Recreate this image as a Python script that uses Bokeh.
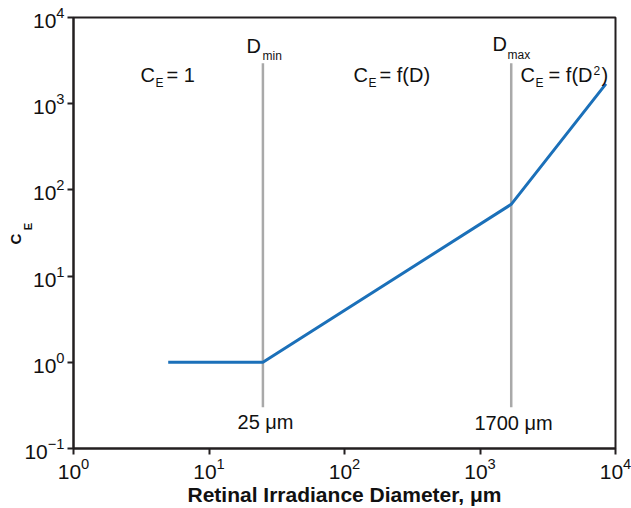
import math
from bokeh.plotting import figure
from bokeh.models import Label, FixedTicker, Title
from bokeh.embed import file_html
from bokeh.resources import INLINE

# ---- data ----
diameter_um = [5, 25, 1700, 8500]
c_e = [1, 1, 68, 1700]
d_min = 25
d_max = 1700
guide_bottom = 0.3
guide_top = 2950
x_ticks = [1, 10, 100, 1000, 10000]
y_ticks = [0.1, 1, 10, 100, 1000, 10000]

FONT = "Liberation Sans"
INK = "#231f20"
TXT = "#111111"
BLUE = "#1b70b9"
GREY = "#a9a9a9"

W, H = 631, 508
FL, FR, FT, FB = 73, 615, 17, 451

p = figure(width=W, height=H, x_axis_type="log", y_axis_type="log",
           x_range=(1, 1e4), y_range=(0.1, 1e4),
           output_backend="svg", toolbar_location=None,
           min_border_left=FL, min_border_right=W - FR,
           min_border_top=FT, min_border_bottom=H - FB)
p.grid.visible = False
p.outline_line_color = INK
p.outline_line_width = 2
p.background_fill_color = "white"
p.border_fill_color = "white"

for ax in (p.xaxis[0], p.yaxis[0]):
    ax.axis_line_color = INK
    ax.axis_line_width = 2
    ax.major_tick_line_color = INK
    ax.major_tick_line_width = 2
    ax.major_tick_out = 6
    ax.major_tick_in = 0
    ax.minor_tick_line_color = None
    ax.major_label_text_font = FONT
    ax.major_label_text_font_size = "21px"
    ax.major_label_text_color = TXT
p.xaxis.ticker = FixedTicker(ticks=x_ticks)
p.yaxis.ticker = FixedTicker(ticks=y_ticks)
p.xaxis.major_label_standoff = 3
p.yaxis.major_label_standoff = 3

p.xaxis.axis_label = "Retinal Irradiance Diameter, \u03bcm"
p.xaxis.axis_label_text_font = FONT
p.xaxis.axis_label_text_font_size = "21px"
p.xaxis.axis_label_text_font_style = "bold"
p.xaxis.axis_label_text_color = TXT
p.xaxis.axis_label_standoff = 1

# y axis title "C" with subscript "E": subscript as the axis label, pulled in
p.yaxis.axis_label = "\u2003\u2006E"
p.yaxis.axis_label_text_font = FONT
p.yaxis.axis_label_text_font_size = "11px"
p.yaxis.axis_label_text_font_style = "bold"
p.yaxis.axis_label_text_color = TXT
p.yaxis.axis_label_standoff = -13
tC = Title(text="C", text_font=FONT, text_font_size="15px", text_font_style="bold",
           text_color=TXT, align="left", offset=204, vertical_align="middle", standoff=-10)
p.add_layout(tC, "left")

# vertical guide lines
p.segment(x0=[d_min, d_max], y0=[guide_bottom] * 2, x1=[d_min, d_max],
          y1=[guide_top] * 2, line_color=GREY, line_width=2.5)
# curve
p.line(diameter_um, c_e, line_color=BLUE, line_width=3)


def to_data(px, py):
    x = 10 ** ((px - FL) / (FR - FL) * 4)
    y = 10 ** (4 - (py - FT) / (FB - FT) * 5)
    return x, y


def txt(s, px, py, size=20, align="left"):
    x, y = to_data(px, py)
    p.add_layout(Label(x=x, y=y, text=s, text_font=FONT,
                       text_font_size=f"{size}px",
                       text_align=align, text_baseline="middle",
                       text_color=TXT))


# region labels (positions = cap centres in canvas pixels)
txt("C", 140, 74.5); txt("E", 155, 83, 12); txt("= 1", 166, 74.5)
txt("C", 353, 74.5); txt("E", 368, 83, 12); txt("= f(D)", 379, 74.5)
txt("C", 520, 74.5); txt("E", 535, 83, 12); txt("= f(D", 592, 74.5, align="right")
txt("2", 593, 70, 12); txt(")", 601, 74.5)
# D_min / D_max
txt("D", 246, 46); txt("min", 262, 55.5, 12)
txt("D", 492, 44); txt("max", 507, 55, 12)
# guide values
txt("25 \u03bcm", 265, 424.5, align="center")
txt("1700 \u03bcm", 513, 425, align="center")

open("out.html", "w").write(file_html(p, INLINE))
